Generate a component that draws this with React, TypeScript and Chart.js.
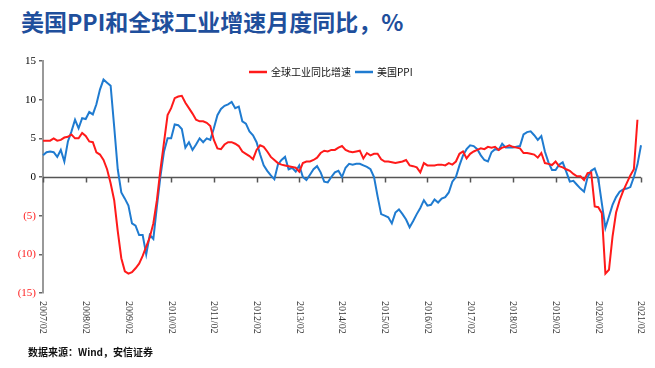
import React, { useEffect, useRef } from "react";
import { Chart, registerables } from "chart.js";
Chart.register(...registerables);

const startYear = 2007;
const startMonth = 2;

const tickLabels = [
  "2007/02", "2008/02", "2009/02", "2010/02", "2011/02", "2012/02", "2013/02", "2014/02",
  "2015/02", "2016/02", "2017/02", "2018/02", "2019/02", "2020/02", "2021/02",
];

const usPPI = [
  2.8, 3.2, 3.3, 3.2, 2.6, 3.5, 2.0, 4.6, 5.9, 7.4, 6.3, 7.6,
  7.5, 8.4, 8.1, 9.4, 11.3, 12.6, 12.2, 11.8, 6.5, 1.0, -2.0, -2.8,
  -3.7, -6.0, -6.3, -7.5, -7.5, -10.0, -7.5, -8.0, -3.8, 0.1, 3.3, 5.0,
  5.0, 6.8, 6.7, 6.2, 3.8, 4.5, 3.5, 4.2, 5.0, 4.5, 5.0, 4.8,
  6.3, 8.0, 8.8, 9.2, 9.4, 9.7, 8.9, 9.1, 7.2, 6.9, 5.9, 5.4,
  4.5, 2.9, 1.5, 0.8, 0.2, -0.3, 1.6, 2.2, 2.6, 1.0, 1.2, 0.7,
  1.5, 0.0, -0.4, 0.3, 1.0, 1.4, 0.6, -0.6, -0.7, 0.0, 0.6, 0.8,
  0.0, 1.2, 1.7, 1.6, 1.7, 1.7, 1.5, 1.3, 1.0, 0.0, -2.5, -4.8,
  -5.0, -5.2, -6.0, -4.6, -4.2, -4.8, -5.5, -6.5, -5.7, -4.8, -4.0, -3.0,
  -3.7, -3.6, -2.9, -3.3, -2.8, -2.6, -2.0, -0.6, 0.0, 1.5, 2.8, 3.6,
  4.1, 4.0, 3.6, 2.8, 2.2, 2.0, 3.2, 3.6, 3.5, 4.3, 3.8, 3.8,
  3.8, 3.9, 4.0, 5.5, 5.8, 5.9, 5.4, 4.8, 5.3, 3.3, 1.9, 0.9,
  0.9, 1.6, 1.9, 0.7, -0.6, -0.5, -1.0, -1.5, -1.9, 0.0, 0.8, 1.1,
  -0.2, -3.4, -6.6, -5.1, -3.6, -2.6, -1.9, -1.6, -1.5, -1.3, 0.0, 1.6,
  4.1,
];

const globalIP = [
  4.7, 4.7, 4.7, 5.0, 4.7, 4.8, 5.1, 5.2, 5.5, 5.0, 5.0, 5.7,
  5.3, 4.6, 4.5, 3.2, 2.9, 2.2, 1.0, -0.8, -3.0, -7.0, -10.5, -12.2,
  -12.5, -12.3, -11.8, -11.2, -10.2, -9.0, -7.8, -6.0, -3.0, 1.0, 4.5, 8.0,
  8.9, 10.2, 10.4, 10.5, 9.6, 8.9, 8.2, 7.4, 7.2, 7.2, 7.0, 6.6,
  4.8, 3.7, 3.6, 4.2, 4.5, 4.5, 4.3, 4.0, 3.3, 3.0, 2.7, 2.3,
  3.5, 4.1, 3.9, 3.3, 2.6, 2.2, 1.8, 1.6, 1.5, 1.4, 1.3, 1.2,
  0.7, 1.8, 2.0, 2.0, 2.2, 2.5, 3.1, 3.4, 3.3, 3.5, 3.5, 3.8,
  4.0, 3.5, 3.3, 3.2, 3.3, 3.4, 2.4, 3.1, 2.8, 3.0, 3.0, 2.3,
  2.0, 2.0, 1.9, 1.8, 1.9, 2.0, 2.2, 1.5, 1.4, 1.25, 0.6, 1.8,
  1.5, 1.5, 1.5, 1.6, 1.6, 1.5, 1.8, 1.6, 2.0, 3.0, 3.3, 2.4,
  3.0, 3.3, 3.5, 3.7, 3.6, 3.9, 3.8, 3.9, 3.5, 3.8, 3.9, 4.1,
  3.9, 3.8, 3.7, 3.1, 3.1, 3.0, 2.9, 2.5, 3.1, 1.8, 1.7, 1.55,
  2.0, 1.4, 1.25, 1.0, 0.8, 0.4, 0.1, 0.1, -0.4, 0.5, 0.6, -3.8,
  -3.9, -4.7, -12.5, -12.0, -7.7, -4.6, -3.0, -1.8, -0.8, 0.2, 1.0, 7.4,
  null,
];

const seriesNames = ["全球工业同比增速", "美国PPI"];
const seriesColors = ["#ff1a1a", "#1f7bd0"];

const months = usPPI.map((_, i) => {
  const m = startMonth - 1 + i;
  return `${startYear + Math.floor(m / 12)}/${String((m % 12) + 1).padStart(2, "0")}`;
});

const overlay = {
  id: "overlay",
  beforeDatasetsDraw(chart: any) {
    const { ctx, chartArea, scales } = chart;
    const y0 = Math.round(scales.y.getPixelForValue(0)) + 0.5;
    ctx.save();
    ctx.strokeStyle = "#555";
    ctx.lineWidth = 1.5;
    ctx.beginPath();
    ctx.moveTo(chartArea.left, y0);
    ctx.lineTo(chartArea.right, y0);
    ctx.stroke();
    ctx.lineWidth = 1.5;
    tickLabels.forEach((lab) => {
      const idx = months.indexOf(lab);
      if (idx < 0) return;
      const x = Math.round(scales.x.getPixelForValue(idx)) + 0.5;
      ctx.beginPath();
      ctx.moveTo(x, y0);
      ctx.lineTo(x, y0 + 5);
      ctx.stroke();
    });
    ctx.restore();
  },
  afterDraw(chart: any) {
    const { ctx, chartArea, scales } = chart;
    ctx.save();
    ctx.fillStyle = "#333";
    ctx.font = "10px 'Liberation Serif'";
    ctx.textAlign = "left";
    ctx.textBaseline = "middle";
    tickLabels.forEach((lab) => {
      const idx = months.indexOf(lab);
      if (idx < 0) return;
      const x = scales.x.getPixelForValue(idx);
      ctx.save();
      ctx.translate(x, chartArea.bottom + 8);
      ctx.rotate(Math.PI / 2);
      ctx.fillText(lab, 0, 0);
      ctx.restore();
    });
    // legend
    const ly = 72;
    let lx = 249;
    ctx.font = "10px 'Noto Sans CJK SC'";
    ctx.textBaseline = "middle";
    seriesNames.forEach((name, k) => {
      ctx.strokeStyle = seriesColors[k];
      ctx.lineWidth = 2.5;
      ctx.beginPath();
      ctx.moveTo(lx, ly);
      ctx.lineTo(lx + 18, ly);
      ctx.stroke();
      ctx.fillStyle = "#111";
      ctx.fillText(name, lx + 22, ly);
      lx += 22 + ctx.measureText(name).width + 4;
    });
    ctx.restore();
  },
};

export default function App() {
  const ref = useRef<HTMLCanvasElement>(null);
  useEffect(() => {
    if (!ref.current) return;
    const chart = new Chart(ref.current, {
      type: "line",
      data: {
        labels: months,
        datasets: [
          {
            label: seriesNames[0],
            data: globalIP,
            borderColor: seriesColors[0],
            borderWidth: 2,
            pointRadius: 0,
            tension: 0,
            spanGaps: false,
          },
          {
            label: seriesNames[1],
            data: usPPI,
            borderColor: seriesColors[1],
            borderWidth: 2,
            pointRadius: 0,
            tension: 0,
          },
        ],
      },
      options: {
        animation: false,
        responsive: false,
        devicePixelRatio: 1,
        layout: { padding: { top: 61, bottom: 75, left: 0, right: 14 } },
        plugins: { legend: { display: false }, tooltip: { enabled: false } },
        scales: {
          x: { display: false, offset: false },
          y: {
            min: -15,
            max: 15,
            ticks: {
              stepSize: 5,
              padding: 3,
              callback: (v: any) => (v < 0 ? `(${-v})` : `${v}`),
              color: (c: any) => (c.tick && c.tick.value < 0 ? "#ff2020" : "#000"),
              font: { family: "'Liberation Serif'", size: 11 },
            },
            grid: { drawOnChartArea: false, drawTicks: true, tickLength: 4, color: "#666", lineWidth: 1.5 },
            border: { display: true, color: "#999", width: 2 },
            afterFit: (s: any) => {
              s.width = 43;
            },
          },
        },
      },
      plugins: [overlay],
    });
    return () => chart.destroy();
  }, []);

  return (
    <div style={{ position: "fixed", left: 0, top: 0, width: 655, height: 368, background: "#fff" }}>
      <div
        style={{
          position: "absolute",
          left: 21,
          top: 8,
          fontFamily: "'Noto Sans CJK SC', sans-serif",
          fontWeight: 700,
          fontSize: 23,
          lineHeight: "26px",
          color: "#1f4f9c",
          whiteSpace: "nowrap",
        }}
      >
        美国PPI和全球工业增速月度同比，%
      </div>
      <canvas ref={ref} width={655} height={368} style={{ position: "absolute", left: 0, top: 0 }} />
      <div
        style={{
          position: "absolute",
          left: 28,
          top: 345,
          fontFamily: "'Noto Sans CJK SC', sans-serif",
          fontWeight: 700,
          fontSize: 10,
          lineHeight: "14px",
          color: "#111",
          whiteSpace: "nowrap",
        }}
      >
        数据来源：Wind，安信证券
      </div>
    </div>
  );
}
